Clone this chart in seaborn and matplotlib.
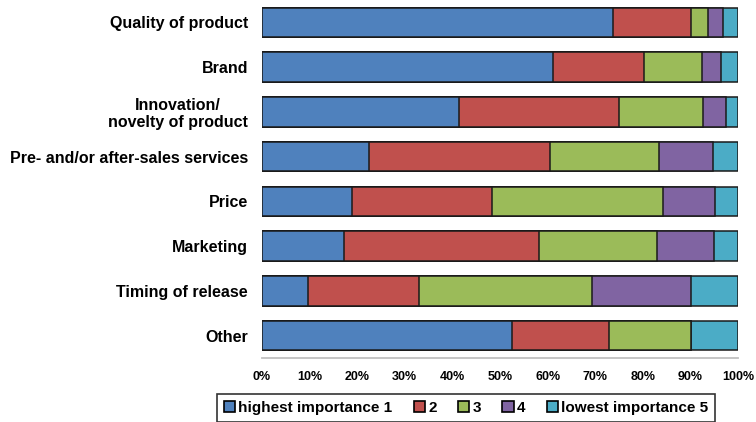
import matplotlib
matplotlib.use("Agg")
import matplotlib.pyplot as plt
from matplotlib.patches import Patch
from matplotlib.ticker import PercentFormatter
import numpy as np
import pandas as pd
import seaborn as sns

# Factors rated by importance (share of respondents, %)
factors = [
    "Quality of product",
    "Brand",
    "Innovation/\nnovelty of product",
    "Pre- and/or after-sales services",
    "Price",
    "Marketing",
    "Timing of release",
    "Other",
]
rank1 = [73.8, 61.2, 41.4, 22.5, 19.0, 17.3, 9.6, 52.5]
rank2 = [16.3, 19.1, 33.6, 37.9, 29.3, 40.9, 23.3, 20.5]
rank3 = [3.5, 12.1, 17.6, 23.0, 36.0, 24.8, 36.5, 17.1]
rank4 = [3.3, 4.1, 4.8, 11.4, 10.9, 12.0, 20.7, 0.0]
rank5 = [3.1, 3.5, 2.6, 5.2, 4.8, 5.0, 9.9, 9.9]
rank_labels = ["highest importance 1", "2", "3", "4", "lowest importance 5"]
rank_colors = ["#4F81BD", "#C0504D", "#9BBB59", "#8064A2", "#4BACC6"]

df = pd.DataFrame({"factor": factors, "r1": rank1, "r2": rank2, "r3": rank3,
                   "r4": rank4, "r5": rank5}).set_index("factor")
# Normalise each row to 100% and accumulate for stacking
shares = df.div(df.sum(axis=1), axis=0) * 100
cum = shares.cumsum(axis=1)

sns.set_theme(style="white")
plt.rcParams["font.family"] = ["Liberation Sans", "DejaVu Sans"]
plt.rcParams["text.color"] = "black"
plt.rcParams["xtick.color"] = "black"
plt.rcParams["ytick.color"] = "black"

fig = plt.figure(figsize=(7.56, 4.22), dpi=100)
ax = fig.add_axes([262 / 756, 1 - 358 / 422, 476 / 756, 358 / 422])

# Draw from the full stack down so each shorter segment sits on top
for col, color in reversed(list(zip(cum.columns, rank_colors))):
    sns.barplot(data=cum.reset_index(), x=col, y="factor", orient="h",
                color=color, saturation=1, width=0.66, edgecolor="#1a1a1a",
                linewidth=1.1, ax=ax)

ax.set_xlim(0, 100)
ax.set_ylim(len(factors) - 0.5, -0.5)
ax.xaxis.set_major_locator(plt.MultipleLocator(10))
ax.xaxis.set_major_formatter(PercentFormatter(decimals=0))
ax.set_xlabel("")
ax.set_ylabel("")
ax.tick_params(axis="y", length=0, pad=10, labelsize=11.5)
ax.tick_params(axis="x", length=0, pad=9, labelsize=9)
for lbl in ax.get_yticklabels():
    lbl.set_fontweight("bold")
    lbl.set_multialignment("center")
    lbl.set_linespacing(1.1)
for lbl in ax.get_xticklabels():
    lbl.set_fontweight("bold")

for side in ["top", "right", "left"]:
    ax.spines[side].set_visible(False)
ax.spines["bottom"].set_color("#c0c0c0")
ax.spines["bottom"].set_linewidth(1.3)

handles = [Patch(facecolor=c, edgecolor="black", linewidth=1.2) for c in rank_colors]
leg = fig.legend(handles, rank_labels, loc="center",
                 bbox_to_anchor=(466 / 756, 1 - 408 / 422), ncol=5,
                 frameon=True, fancybox=False, prop={"weight": "bold", "size": 11},
                 handlelength=0.75, handleheight=0.75, handletextpad=0.2,
                 columnspacing=1.4, borderpad=0.45, borderaxespad=0)
leg.get_frame().set_edgecolor("black")
leg.get_frame().set_linewidth(1.2)

fig.savefig("out.png", dpi=100)
